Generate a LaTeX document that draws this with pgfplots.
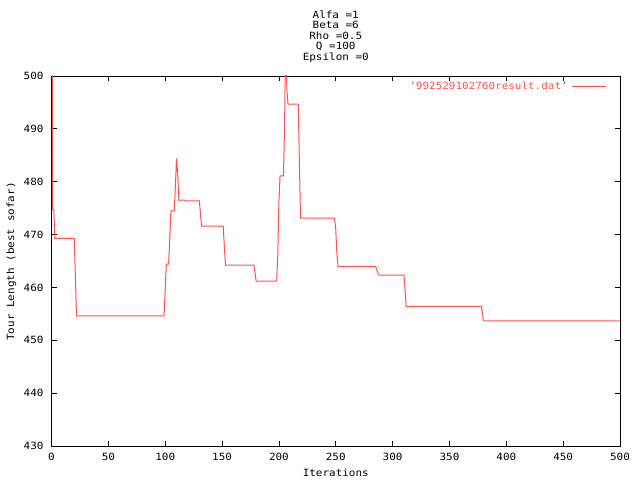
\documentclass[border=0pt]{standalone}
\usepackage{pgfplots}
\pgfplotsset{compat=1.18}
\usepackage{fontspec}
\setmainfont{DejaVu Sans Mono}[FakeStretch=1.1]
\definecolor{gred}{RGB}{255,80,80}
\begin{document}
\begin{tikzpicture}[x=1bp,y=1bp]
\path[use as bounding box] (0,0) rectangle (640,480);
\begin{axis}[
  at={(51.5bp,34bp)}, anchor=south west,
  scale only axis, width=568.5bp, height=370bp,
  xmin=0, xmax=500, ymin=430, ymax=500,
  xtick={0,50,...,500}, ytick={430,440,...,500},
  tick align=inside, major tick length=5bp,
  axis line style={black, line width=0.8bp},
  tick style={black, line width=0.8bp},
  /pgf/number format/assume math mode=true,
  scaled ticks=false,
  ticklabel style={font=\fontsize{10}{12}\selectfont},
  xticklabel style={yshift=-3.5bp},
  yticklabel style={xshift=-4.5bp},
  legend style={draw=none, fill=none, at={(0.977,0.972)}, anchor=east,
     inner sep=0pt, font=\fontsize{10}{12}\selectfont,
     /tikz/every odd column/.style={column sep=2bp}},
  legend plot pos=right,
  legend image code/.code={\draw[#1] (0bp,0bp) -- (34bp,0bp);},
]
\addplot[color=gred, line width=1bp, mark=none] coordinates {
(0,560) (1,474.7) (2,474.7) (3,469.3) (20,469.3) (21,462.0) (22,454.6)
(99,454.6) (100,459.5) (101,464.4) (103,464.4) (104,469.3) (105,474.5)
(108,474.5) (109,479.4) (110,484.4) (111,481.4) (112,476.5) (117,476.5)
(118,476.35) (130,476.35) (131,474.0) (132,471.6) (151,471.6) (152,467.8)
(153,464.2) (178,464.2) (179,462.8) (180,461.2) (198,461.2) (199,466.1)
(200,476.0) (201,481.1) (204,481.1) (205,490.4) (206,510) (207,497.4)
(208,494.7) (217,494.7) (218,484.0) (219,473.1) (249,473.1) (250,470.9)
(251,466.5) (252,464.0) (285,464.0) (286,463.4) (287,462.8) (288,462.35)
(310,462.35) (311,459.4) (312,456.4) (378,456.4) (379,455.1) (380,453.65)
(500,453.65)
};
\addlegendentry{\textcolor{gred}{'992529102760result.dat'}}
\end{axis}
\begin{scope}[every node/.style={font=\fontsize{10}{12}\selectfont, inner sep=0pt}]
\node[anchor=base] at (335.75,461.7) {Alfa =1};
\node[anchor=base] at (335.75,451.2) {Beta =6};
\node[anchor=base] at (335.75,440.6) {Rho =0.5};
\node[anchor=base] at (335.75,430.0) {Q =100};
\node[anchor=base] at (335.75,419.5) {Epsilon =0};
\node[anchor=center] at (335.75,7.5) {Iterations};
\node[anchor=center, rotate=90] at (11.5,218.5) {Tour Length (best sofar)};
\end{scope}
\end{tikzpicture}
\end{document}
